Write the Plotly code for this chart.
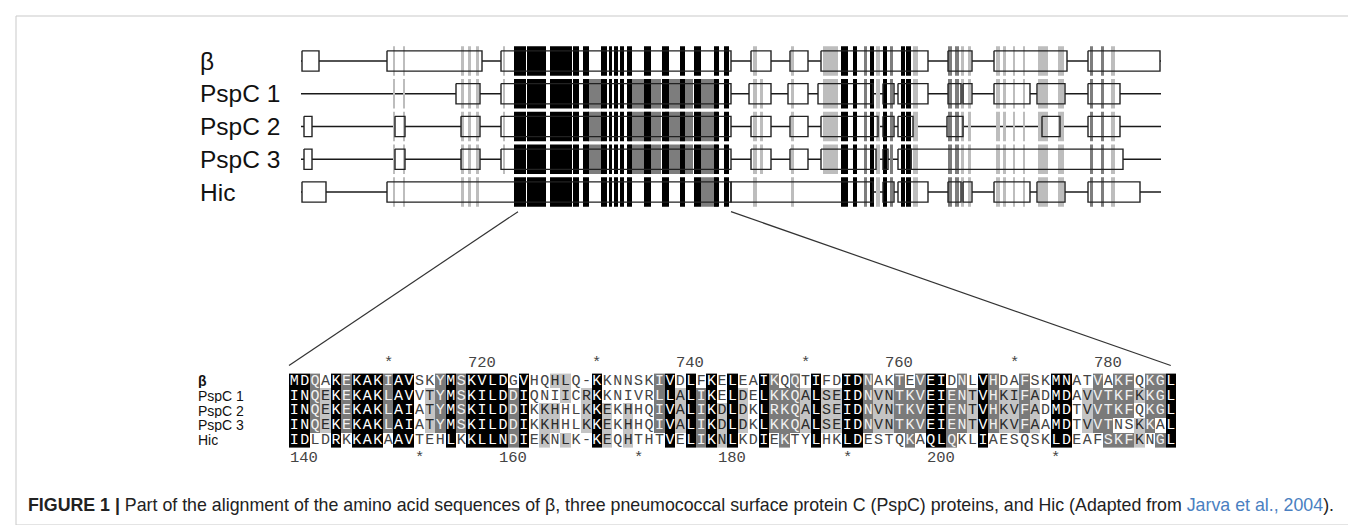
import plotly.graph_objects as go

W, H = 1356, 525

# ---------------- data: domain overview (positions along the alignment) -------------
rows_top = ["β", "PspC 1", "PspC 2", "PspC 3", "Hic"]
row_start = [0, 0, 0, 0, 0]
row_end = [860, 860, 860, 860, 860]

beta_boxes = [(1, 18), (86, 181), (200, 430), (450, 470), (489, 507), (520, 627), (647, 671), (693, 766), (787, 859)]
pspc1_boxes = [(155, 179), (200, 430), (448, 470), (487, 507), (517, 572), (582, 593), (597, 627), (647, 660), (662, 671), (693, 729), (736, 764), (787, 819)]
pspc2_boxes = [(3, 11), (94, 104), (160, 179), (200, 430), (450, 470), (489, 507), (520, 577), (582, 593), (597, 612), (646, 662), (741, 759), (787, 819)]
pspc3_boxes = [(3, 11), (94, 104), (160, 179), (200, 430), (450, 470), (489, 507), (520, 575), (582, 587), (597, 610), (610, 822)]
hic_boxes = [(1, 25), (86, 430), (430, 572), (582, 593), (597, 627), (647, 660), (662, 671), (693, 729), (736, 764), (787, 839)]

# conserved-column stripes: start, end, tone (0 light, 1 dark, 2 black), first row, last row
stripe_x0 = [92, 102, 160, 167, 175, 202,
             287, 327, 364, 400, 400,
             213, 226, 249, 272, 282, 300, 308, 313, 319, 326, 343, 361, 379, 393, 413, 423,
             452, 459, 490, 522, 540, 552, 563, 569, 575, 582, 589, 600, 605, 612,
             647, 654, 660, 667, 695, 702, 712, 722, 737, 757, 789, 800, 810]
stripe_x1 = [94, 104, 163, 170, 178, 204,
             301, 360, 392, 417, 417,
             225, 245, 271, 278, 288, 306, 311, 317, 323, 331, 350, 368, 384, 400, 418, 428,
             456, 462, 493, 537, 547, 556, 566, 573, 579, 586, 592, 604, 610, 617,
             651, 658, 663, 670, 699, 705, 714, 724, 747, 763, 792, 803, 814]
stripe_tone = [0, 0, 0, 0, 0, 0,
               1, 1, 1, 1, 1,
               2, 2, 2, 2, 2, 2, 2, 2, 2, 2, 2, 2, 2, 2, 2, 2,
               0, 0, 0, 0, 2, 2, 1, 2, 0, 2, 1, 2, 2, 0,
               1, 1, 0, 0, 0, 0, 0, 0, 0, 0, 1, 1, 0]
stripe_r0 = [0, 0, 0, 0, 0, 0,
             1, 1, 1, 1, 3,
             0, 0, 0, 0, 0, 0, 0, 0, 0, 0, 0, 0, 0, 0, 0, 0,
             0, 1, 0, 0, 0, 0, 0, 0, 0, 0, 0, 0, 0, 0,
             0, 0, 0, 0, 0, 0, 0, 0, 0, 0, 0, 0, 0]
stripe_r1 = [4, 4, 4, 4, 4, 3,
             3, 3, 3, 3, 4,
             4, 4, 4, 4, 4, 4, 4, 4, 4, 4, 4, 4, 4, 4, 4, 4,
             4, 3, 4, 3, 4, 4, 4, 4, 4, 4, 4, 4, 4, 4,
             4, 4, 4, 4, 4, 4, 4, 4, 4, 4, 4, 4, 4]

# ---------------- data: alignment -------------
align_names = ["β", "PspC 1", "PspC 2", "PspC 3", "Hic"]
seq_beta = "MDQAKEKAKIAVSKYMSKVLDGVHQHLQ-KKNNSKIVDLFKELEAIKQQTIFDIDNAKTEVEIDNLVHDAFSKMNATVAKFQKGL"
seq_pspc1 = "INQEKEKAKLAVVTYMSKILDDIQNIICRKKNIVRLLALIKELDELKKQALSEIDNVNTKVEIENTVHKIFADMDAVVTKFKKGL"
seq_pspc2 = "INQEKEKAKLAIATYMSKILDDIKKHHLKKEKHHQIVALIKDLDKLRKQALSEIDNVNTKVEIENTVHKVFADMDTVVTKFQKGL"
seq_pspc3 = "INQEKEKAKLAIATYMSKILDDIKKHHLKKEKHHQIVALIKDLDKLKKQALSEIDNVNTKVEIENTVHKVFAAMDTVVTNSKKAL"
seq_hic = "IDLDRKKAKAAVTEHLKKLLNDIEKNLK-KEQHTHTVELIKNLKDIEKTYLHKLDESTQKAQLQKLIAESQSKLDEAFSKFKNGL"

ruler_top_labels = ["*", "720", "*", "740", "*", "760", "*", "780"]
ruler_top_cols = [9, 19, 29, 39, 49, 59, 69, 79]
ruler_bot_labels = ["140", "*", "160", "*", "180", "*", "200", "*"]
ruler_bot_cols = [2, 12, 22, 33, 43, 53, 63, 73]

caption = ("<b>FIGURE 1 |</b> Part of the alignment of the amino acid sequences of β, three pneumococcal "
           "surface protein C (PspC) proteins, and Hic (Adapted from "
           "<span style='color:#4a7fc1'>Jarva et al., 2004</span>).")

# ---------------- layout geometry -------------
TOP_X_PX = (293, 1153)
TOP_Y_PX = (30, 210)
TOP_ROW0_PX, TOP_ROW_STEP = 53, 32.75
ALN_X_PX = (281, 1168)
ALN_Y_PX = (330, 470)
ALN_ROW0_PX, ALN_ROW_STEP = 373, 14.8

top_xrange = [0, 860]
top_yrange = [(TOP_Y_PX[1] - TOP_ROW0_PX) / TOP_ROW_STEP, (TOP_Y_PX[0] - TOP_ROW0_PX) / TOP_ROW_STEP]
ncol = len(seq_beta)
aln_xrange = [-0.5, ncol - 0.5]
aln_yrange = [(ALN_Y_PX[1] - ALN_ROW0_PX) / ALN_ROW_STEP, (ALN_Y_PX[0] - ALN_ROW0_PX) / ALN_ROW_STEP]


def px_dom_x(p):
    return (p[0] / W, p[1] / W)


def px_dom_y(p):
    return (1 - p[1] / H, 1 - p[0] / H)


def to_paper(v, rng, dom):
    return dom[0] + (v - rng[0]) / (rng[1] - rng[0]) * (dom[1] - dom[0])


top_xdom, top_ydom = px_dom_x(TOP_X_PX), px_dom_y(TOP_Y_PX)
aln_xdom, aln_ydom = px_dom_x(ALN_X_PX), px_dom_y(ALN_Y_PX)

fig = go.Figure()

# ---------------- top overview -------------
BOX_H = 0.31
STRIPE_H = 0.45


def add_rect(xs, ys, x0, x1, y0, y1):
    xs += [x0, x1, x1, x0, x0, None]
    ys += [y0, y0, y1, y1, y0, None]


lx, ly = [], []
for r in range(5):
    lx += [row_start[r], row_end[r], None]
    ly += [r, r, None]
fig.add_trace(go.Scatter(x=lx, y=ly, mode="lines", line=dict(color="#1a1a1a", width=1.5),
                         hoverinfo="skip", showlegend=False))

all_boxes = [beta_boxes, pspc1_boxes, pspc2_boxes, pspc3_boxes, hic_boxes]
bx, by = [], []
for r, bl in enumerate(all_boxes):
    for (a, b) in bl:
        add_rect(bx, by, a, b, r - BOX_H, r + BOX_H)
fig.add_trace(go.Scatter(x=bx, y=by, mode="lines", fill="toself", fillcolor="white",
                         line=dict(width=0), hoverinfo="skip", showlegend=False))

tone_colors = ["#bdbdbd", "#7d7d7d", "#000000"]
for tone in range(3):
    sx, sy = [], []
    for x0, x1, t, r0, r1 in zip(stripe_x0, stripe_x1, stripe_tone, stripe_r0, stripe_r1):
        if t != tone:
            continue
        for r in range(r0, r1 + 1):
            add_rect(sx, sy, x0, x1, r - STRIPE_H, r + STRIPE_H)
    fig.add_trace(go.Scatter(x=sx, y=sy, mode="lines", fill="toself", fillcolor=tone_colors[tone],
                             line=dict(width=0), hoverinfo="skip", showlegend=False))

fig.add_trace(go.Scatter(x=bx, y=by, mode="lines", line=dict(color="#222222", width=1.4),
                         hoverinfo="skip", showlegend=False))

# ---------------- alignment block -------------
seqs = [seq_beta, seq_pspc1, seq_pspc2, seq_pspc3, seq_hic]
groups = ["DN", "EQ", "ST", "KR", "FYW", "LIVM"]


def grp(c):
    for g in groups:
        if c in g:
            return g
    return c


levels = [[0] * ncol for _ in range(5)]
for j in range(ncol):
    col = [s[j] for s in seqs]
    counts = {}
    for c in col:
        if c != "-":
            counts[grp(c)] = counts.get(grp(c), 0) + 1
    g, n = max(counts.items(), key=lambda kv: kv[1])
    lvl = {5: 3, 4: 2, 3: 1}.get(n, 0)
    for i, c in enumerate(col):
        if c != "-" and grp(c) == g:
            levels[i][j] = lvl

fig.add_trace(go.Heatmap(
    z=levels, x=list(range(ncol)), y=list(range(5)), xaxis="x2", yaxis="y2",
    zmin=0, zmax=3, showscale=False, hoverinfo="skip",
    colorscale=[[0, "#ffffff"], [0.25, "#ffffff"], [0.25, "#c4c4c4"], [0.5, "#c4c4c4"],
                [0.5, "#7a7a7a"], [0.75, "#7a7a7a"], [0.75, "#000000"], [1, "#000000"]],
))

text_colors = ["#444444", "#2a2a2a", "#f2f2f2", "#ffffff"]
for lvl in range(4):
    tx, ty, tt = [], [], []
    for i, s in enumerate(seqs):
        for j, c in enumerate(s):
            if levels[i][j] == lvl:
                tx.append(j)
                ty.append(i)
                tt.append(c)
    fig.add_trace(go.Scatter(x=tx, y=ty, text=tt, mode="text", xaxis="x2", yaxis="y2",
                             textfont=dict(family="Liberation Mono, monospace", size=15,
                                           color=text_colors[lvl]),
                             hoverinfo="skip", showlegend=False))

# ---------------- axes -------------
ax_off = dict(visible=False, showgrid=False, zeroline=False, fixedrange=True)
fig.update_layout(
    width=W, height=H, margin=dict(l=0, r=0, t=0, b=0),
    paper_bgcolor="white", plot_bgcolor="rgba(0,0,0,0)", showlegend=False,
    xaxis=dict(domain=list(top_xdom), range=top_xrange, **ax_off),
    yaxis=dict(domain=list(top_ydom), range=top_yrange, **ax_off),
    xaxis2=dict(domain=list(aln_xdom), range=aln_xrange, anchor="y2", **ax_off),
    yaxis2=dict(domain=list(aln_ydom), range=aln_yrange, anchor="x2", **ax_off),
)

ann = []
for r, name in enumerate(rows_top):
    ann.append(dict(x=190 / W, xref="paper", y=r, yref="y", text=name, showarrow=False,
                    xanchor="left", yanchor="middle",
                    font=dict(family="Liberation Sans, Arial", size=24.5, color="#111111")))
for r, name in enumerate(align_names):
    ann.append(dict(x=188 / W, xref="paper", y=r, yref="y2",
                    text=("<b>%s</b>" % name) if name == "β" else name, showarrow=False,
                    xanchor="left", yanchor="middle", height=14,
                    font=dict(family="Liberation Sans, Arial", size=14, color="#111111")))
for lab, c in zip(ruler_top_labels, ruler_top_cols):
    ann.append(dict(x=c + (0 if lab == "*" else 0.5), xref="x2", y=-1.2, yref="y2", text=lab,
                    showarrow=False, xanchor="center" if lab == "*" else "right", yanchor="middle",
                    font=dict(family="Liberation Mono, monospace", size=15.5, color="#444444")))
for lab, c in zip(ruler_bot_labels, ruler_bot_cols):
    ann.append(dict(x=c + (0 if lab == "*" else 0.5), xref="x2", y=5.2, yref="y2", text=lab,
                    showarrow=False, xanchor="center" if lab == "*" else "right", yanchor="middle",
                    font=dict(family="Liberation Mono, monospace", size=15.5, color="#444444")))
ann.append(dict(x=18 / W, xref="paper", y=1 - 497 / H, yref="paper", text=caption, showarrow=False,
                xanchor="left", yanchor="middle",
                font=dict(family="Liberation Sans, Arial", size=17.8, color="#222222")))
fig.update_layout(annotations=ann)

# connector lines from the overview to the alignment (converted through the axis ranges)
left_top = (to_paper(217, top_xrange, top_xdom), to_paper(4 + 0.6, top_yrange, top_ydom))
left_bot = (to_paper(-0.5, aln_xrange, aln_xdom), to_paper(-1.05, aln_yrange, aln_ydom))
right_top = (to_paper(430, top_xrange, top_xdom), to_paper(4 + 0.6, top_yrange, top_ydom))
right_bot = (to_paper(ncol - 1, aln_xrange, aln_xdom), to_paper(-1.05, aln_yrange, aln_ydom))
shapes = [
    dict(type="line", xref="paper", yref="paper", x0=left_top[0], y0=left_top[1],
         x1=left_bot[0], y1=left_bot[1], line=dict(color="#333333", width=1.2)),
    dict(type="line", xref="paper", yref="paper", x0=right_top[0], y0=right_top[1],
         x1=right_bot[0], y1=right_bot[1], line=dict(color="#333333", width=1.2)),
    dict(type="rect", xref="paper", yref="paper", x0=8 / W, y0=1 - 517 / H, x1=1348 / W, y1=1 - 8 / H,
         line=dict(color="#c9c9c9", width=1)),
]
fig.update_layout(shapes=shapes)

fig.write_html("out.html")
